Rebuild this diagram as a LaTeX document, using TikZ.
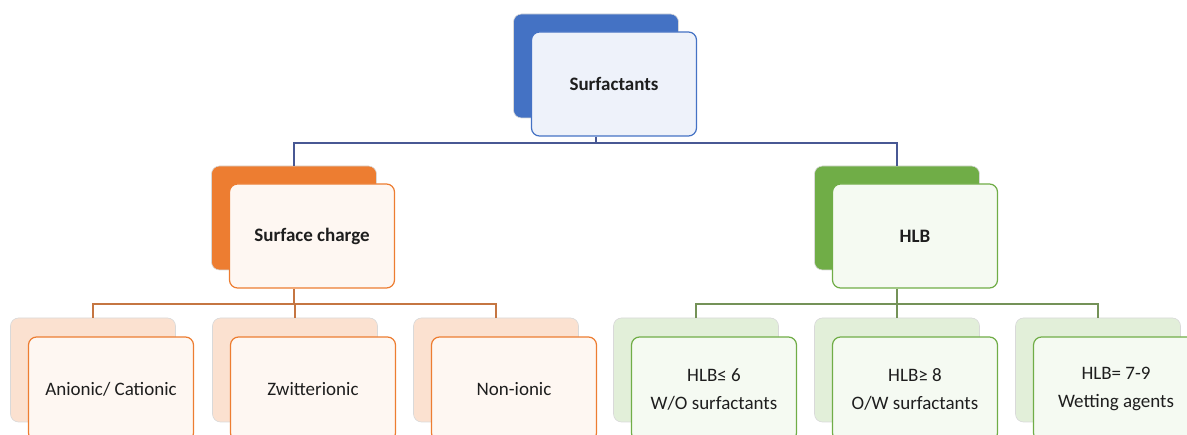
\documentclass[tikz,border=0pt]{standalone}
\usepackage{fontspec}
\setmainfont{Carlito}
\usetikzlibrary{positioning}

\definecolor{bluebox}{RGB}{68,114,196}
\definecolor{blueline}{RGB}{72,88,148}
\definecolor{bluefill}{RGB}{238,242,250}
\definecolor{orangebox}{RGB}{237,125,49}
\definecolor{orangeline}{RGB}{197,118,66}
\definecolor{orangefill}{RGB}{254,247,242}
\definecolor{orangetint}{RGB}{251,225,208}
\definecolor{greenbox}{RGB}{112,173,71}
\definecolor{greenline}{RGB}{116,146,88}
\definecolor{greenfill}{RGB}{245,250,242}
\definecolor{greentint}{RGB}{226,239,217}
\definecolor{textgray}{RGB}{30,30,30}

\tikzset{
    backbox/.style={rounded corners=8pt, minimum width=165pt, minimum height=104pt, draw=gray!30, line width=0.6pt},
    frontbox/.style={rounded corners=8pt, minimum width=165pt, minimum height=104pt, line width=1.2pt, align=center, text=textgray, font=\fontsize{19}{28}\selectfont},
    headbox/.style={frontbox, font=\fontsize{19}{28}\selectfont\bfseries},
    link/.style={line width=1.2pt}
}

\begin{document}
\begin{tikzpicture}[x=1pt,y=-1pt]
    \useasboundingbox (0,0) rectangle (1187,435);
    % top level
    \node[backbox, fill=bluebox] (surfBack) at (596,66) {};
    \node[headbox, draw=bluebox, fill=bluefill] (surf) at (614,84) {Surfactants};
    % second level
    \node[backbox, fill=orangebox] (chargeBack) at (294,218) {};
    \node[headbox, draw=orangebox, fill=orangefill] (charge) at (312,236) {Surface charge};
    \node[backbox, fill=greenbox] (hlbBack) at (897,218) {};
    \node[headbox, draw=greenbox, fill=greenfill] (hlb) at (915,236) {HLB};
    % third level
    \node[backbox, fill=orangetint] (anionBack) at (93,370) {};
    \node[frontbox, draw=orangebox, fill=orangefill] (anion) at (111,389) {Anionic/ Cationic};
    \node[backbox, fill=orangetint] (zwitterBack) at (295,370) {};
    \node[frontbox, draw=orangebox, fill=orangefill] (zwitter) at (313,389) {Zwitterionic};
    \node[backbox, fill=orangetint] (nonionBack) at (496,370) {};
    \node[frontbox, draw=orangebox, fill=orangefill] (nonion) at (514,389) {Non-ionic};
    \node[backbox, fill=greentint] (woBack) at (696,370) {};
    \node[frontbox, draw=greenbox, fill=greenfill] (wo) at (714,389) {HLB≤ 6\\W/O surfactants};
    \node[backbox, fill=greentint] (owBack) at (897,370) {};
    \node[frontbox, draw=greenbox, fill=greenfill] (ow) at (915,389) {HLB≥ 8\\O/W surfactants};
    \node[backbox, fill=greentint] (wetBack) at (1098,370) {};
    \node[frontbox, draw=greenbox, fill=greenfill] (wet) at (1116,389) {HLB= 7-9\\Wetting agents};
    % connectors
    \coordinate (busTop) at (596,143);
    \draw[link, blueline] (surf.south -| surfBack) -- (busTop);
    \draw[link, blueline] (chargeBack.north) |- (busTop) -| (hlbBack.north);
    \coordinate (busCharge) at (294,304);
    \draw[link, orangeline] (charge.south -| chargeBack) -- (busCharge);
    \draw[link, orangeline] (anionBack.north) |- (busCharge) -| (nonionBack.north);
    \draw[link, orangeline] (busCharge -| zwitterBack) -- (zwitterBack.north);
    \coordinate (busHlb) at (897,304);
    \draw[link, greenline] (hlb.south -| hlbBack) -- (busHlb);
    \draw[link, greenline] (woBack.north) |- (busHlb) -| (wetBack.north);
    \draw[link, greenline] (busHlb) -- (owBack.north);
\end{tikzpicture}
\end{document}
